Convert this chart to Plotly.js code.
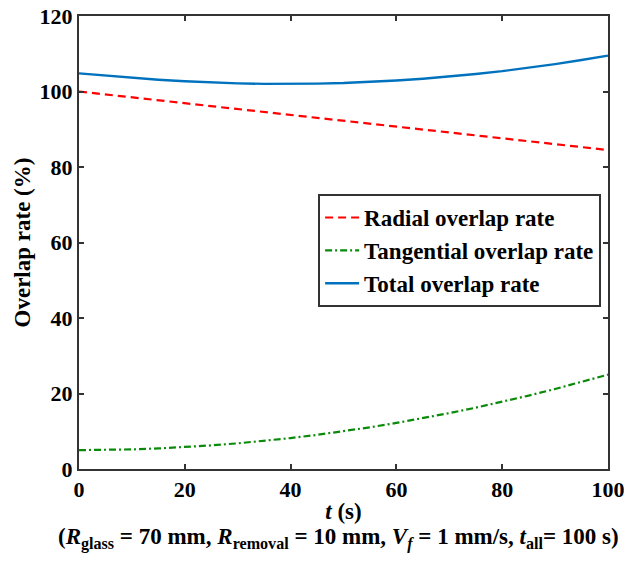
<!DOCTYPE html>
<html>
<head>
<meta charset="utf-8">
<script src="https://cdn.plot.ly/plotly-3.0.1.min.js"></script>
<style>html,body{margin:0;padding:0;background:#fff;}#chart{width:624px;height:565px;}</style>
</head>
<body>
<div id="chart"></div>
<script>
const timeS = [0,5,10,15,20,25,30,35,40,45,50,55,60,65,70,75,80,85,90,95,100];
const radialRate = [100,99.23,98.45,97.68,96.9,96.13,95.35,94.58,93.8,93.03,92.25,91.48,90.7,89.93,89.15,88.38,87.6,86.83,86.05,85.28,84.5];
const tangentialRate = [5.0,5.05,5.2,5.45,5.8,6.25,6.8,7.45,8.2,9.05,10.0,11.05,12.2,13.45,14.8,16.25,17.8,19.45,21.2,23.05,25.0];
const totalRate = [104.8,104.2,103.62,103.12,102.7,102.38,102.15,102.03,102.0,102.08,102.25,102.53,102.9,103.38,103.95,104.63,105.4,106.28,107.25,108.33,109.5];
const seriesNames = ['Radial overlap rate','Tangential overlap rate','Total overlap rate'];
const xTicks = [0,20,40,60,80,100];
const yTicks = [0,20,40,60,80,100,120];

const fontFam = '"Liberation Serif", "Times New Roman", serif';
const traces = [
  {x: timeS, y: radialRate, name: seriesNames[0], mode: 'lines', line: {color: '#ff0000', dash: '8px,5px', width: 2.2}},
  {x: timeS, y: tangentialRate, name: seriesNames[1], mode: 'lines', line: {color: '#0a8a0a', dash: '7px,3px,2px,3px', width: 2.2}},
  {x: timeS, y: totalRate, name: seriesNames[2], mode: 'lines', line: {color: '#0072bd', width: 2.4}}
];
const axisCommon = {
  showline: true, mirror: 'ticks', linecolor: '#333', linewidth: 2,
  ticks: 'inside', ticklen: 5, tickwidth: 2, tickcolor: '#333',
  showgrid: false, zeroline: false, ticklabeloverflow: 'allow',
  tickfont: {family: fontFam, size: 22, color: '#000', weight: 'bold'}
};
const layout = {
  width: 624, height: 565,
  margin: {l: 79, r: 16, t: 16, b: 96},
  paper_bgcolor: '#fff', plot_bgcolor: '#fff',
  font: {family: fontFam, color: '#000', size: 22},
  showlegend: true,
  legend: {
    x: 0.452, y: 0.607, xanchor: 'left', yanchor: 'top',
    bgcolor: '#fff', bordercolor: '#333', borderwidth: 2,
    font: {family: fontFam, size: 23, color: '#000', weight: 'bold'},
    tracegroupgap: 0, itemwidth: 34
  },
  xaxis: Object.assign({}, axisCommon, {
    range: [0, 100], tickvals: xTicks, ticktext: xTicks.map(String),
    title: {text: '<i>t</i> (s)', font: {family: fontFam, size: 23, weight: 'bold'}, standoff: 1}
  }),
  yaxis: Object.assign({}, axisCommon, {
    range: [0, 120], tickvals: yTicks, ticktext: yTicks.map(String),
    title: {text: 'Overlap rate (%)', font: {family: fontFam, size: 23, weight: 'bold'}, standoff: 3}
  }),
  annotations: [{
    xref: 'paper', yref: 'paper', x: 0.49, y: -0.118, xanchor: 'center', yanchor: 'top',
    showarrow: false,
    text: '(<i>R</i><sub>glass</sub> = 70 mm, <i>R</i><sub>removal</sub> = 10 mm, <i>V<sub>f</sub></i> = 1 mm/s, <i>t</i><sub>all</sub>= 100 s)',
    font: {family: fontFam, size: 23, color: '#000', weight: 'bold'}
  }]
};
Plotly.newPlot('chart', traces, layout, {displayModeBar: false, staticPlot: true});
</script>
</body>
</html>
